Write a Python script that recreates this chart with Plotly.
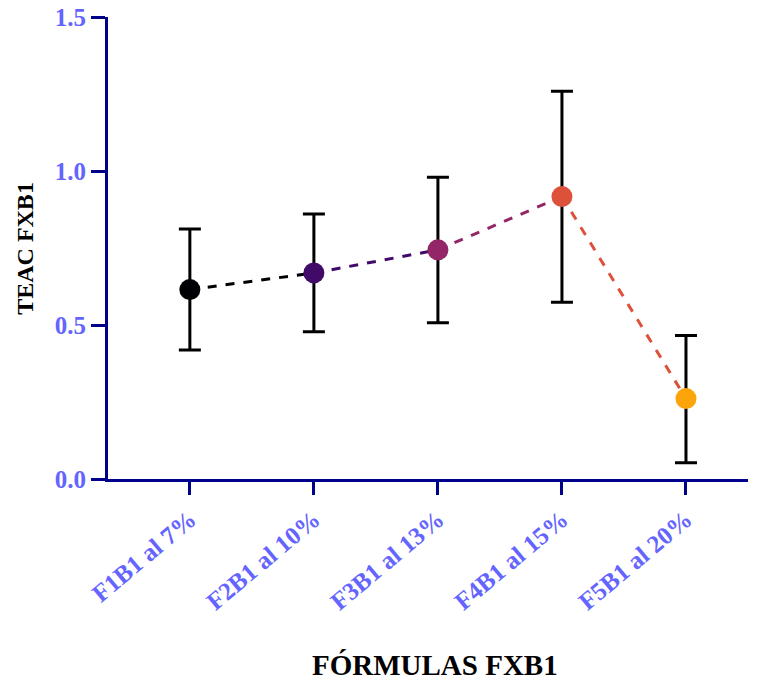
import plotly.graph_objects as go

categories = ["F1B1 al 7%", "F2B1 al 10%", "F3B1 al 13%", "F4B1 al 15%", "F5B1 al 20%"]
means = [0.615, 0.669, 0.744, 0.917, 0.261]
err_plus = [0.197, 0.191, 0.236, 0.342, 0.205]
err_minus = [0.196, 0.191, 0.237, 0.343, 0.208]
point_colors = ["#000004", "#420a68", "#932667", "#dd513a", "#fca50a"]
segment_colors = ["#000004", "#420a68", "#932667", "#dd513a"]
y_ticks = [0.0, 0.5, 1.0, 1.5]

axis_color = "#00008b"
tick_color = "#6464ff"
serif = "Liberation Serif, Times New Roman, serif"

fig = go.Figure()

for i, c in enumerate(segment_colors):
    fig.add_trace(go.Scatter(
        x=categories[i:i + 2], y=means[i:i + 2], mode="lines",
        line=dict(color=c, width=3, dash="dash"),
        showlegend=False, hoverinfo="skip",
    ))

fig.add_trace(go.Scatter(
    x=categories, y=means, mode="markers",
    marker=dict(color=point_colors, size=21, line=dict(width=0)),
    error_y=dict(type="data", array=err_plus, arrayminus=err_minus,
                 color="black", thickness=3, width=11),
    showlegend=False,
))

fig.update_layout(
    width=753, height=678,
    margin=dict(l=100, r=13, t=9, b=207),
    plot_bgcolor="white", paper_bgcolor="white",
    font=dict(family=serif),
)

fig.update_xaxes(
    type="category", range=[-0.66, 4.5], automargin=False,
    showline=True, linecolor=axis_color, linewidth=3,
    ticks="outside", ticklen=13, tickwidth=3, tickcolor=axis_color,
    tickangle=-40, showgrid=False, zeroline=False,
    tickvals=categories, ticktext=["<b>%s</b>" % c for c in categories],
    tickfont=dict(family=serif, size=25, color=tick_color),
)
fig.update_yaxes(
    range=[0, 1.5], automargin=False, ticklabeloverflow="allow",
    tickvals=y_ticks, ticktext=["<b>%.1f</b>" % v for v in y_ticks],
    showline=True, linecolor=axis_color, linewidth=3,
    ticks="outside", ticklen=14, tickwidth=3, tickcolor=axis_color,
    showgrid=False, zeroline=False,
    tickfont=dict(family=serif, size=25, color=tick_color),
)

fig.add_annotation(
    text="<b>TEAC FXB1</b>", xref="paper", yref="paper", x=-0.13, y=0.5,
    xanchor="center", yanchor="middle", textangle=-90, showarrow=False,
    font=dict(family=serif, size=24, color="black"),
)
fig.add_annotation(
    text="<b>FÓRMULAS FXB1</b>", xref="paper", yref="paper", x=0.511, y=-0.403,
    xanchor="center", yanchor="middle", showarrow=False,
    font=dict(family=serif, size=29, color="black"),
)

fig.write_html("out.html")
